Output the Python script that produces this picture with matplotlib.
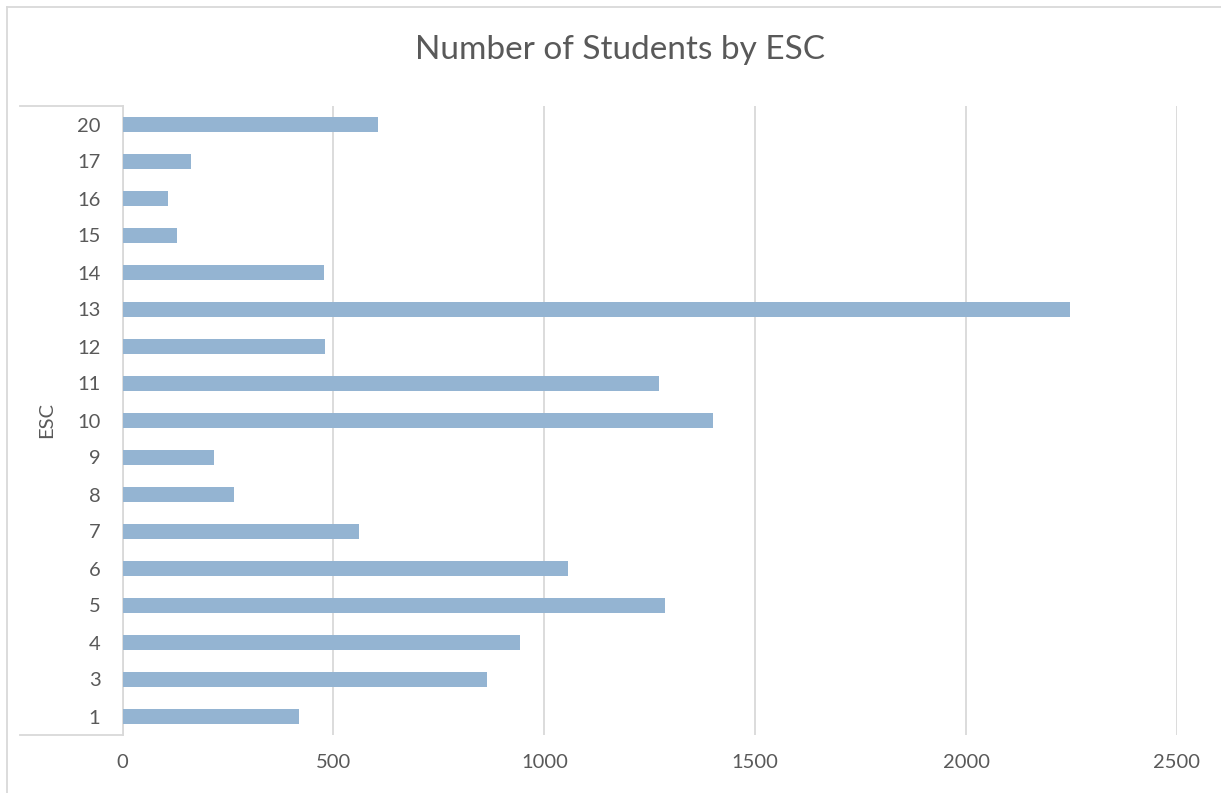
import matplotlib.pyplot as plt
from matplotlib.lines import Line2D
import numpy as np

# ESC regions and student counts
esc = ["1", "3", "4", "5", "6", "7", "8", "9", "10", "11", "12", "13", "14", "15", "16", "17", "20"]
students = [419, 865, 943, 1285, 1057, 561, 264, 217, 1399, 1271, 480, 2246, 478, 129, 108, 162, 606]

bar_color = "#94B4D2"
grid_color = "#D9D9D9"
text_color = "#595959"

plt.rcParams['font.family'] = ['Lato', 'DejaVu Sans']

fig = plt.figure(figsize=(12.21, 7.93), dpi=100)
W, H = 1221, 793
ax = fig.add_axes([122.6 / W, 58 / H, (1177 - 122.6) / W, (735 - 106) / H])

y = np.arange(len(esc))
ax.barh(y, students, height=0.38, color=bar_color, zorder=3)

ax.set_xlim(0, 2500)
ax.set_ylim(-0.5, len(esc) - 0.5)
ax.set_xticks([0, 500, 1000, 1500, 2000, 2500])
ax.set_yticks(y)
ax.set_yticklabels(esc)
ax.xaxis.grid(True, color=grid_color, linewidth=1.3, zorder=0)
ax.tick_params(axis="both", length=0, labelsize=14.5, labelcolor=text_color)
ax.tick_params(axis="y", pad=16)
ax.tick_params(axis="x", pad=14)

for s in ["top", "right", "bottom"]:
    ax.spines[s].set_visible(False)
ax.spines["left"].set_color(grid_color)
ax.spines["left"].set_linewidth(1.3)

ax.set_ylabel("ESC", fontsize=14.5, color=text_color, labelpad=16)

fig.text(620 / W, 1 - 50 / H, "Number of Students by ESC", ha="center", va="center",
         fontsize=24, color=text_color)

# frame around the category labels and the outer chart border
def fline(x0, y0, x1, y1):
    fig.add_artist(Line2D([x0 / W, x1 / W], [1 - y0 / H, 1 - y1 / H],
                          color=grid_color, linewidth=1.3))

fline(20, 106, 122.6, 106)
fline(20, 735, 122.6, 735)
fline(7, 7, 7, 793)
fline(7, 7, 1221, 7)

fig.savefig("out.png", dpi=100, facecolor="white")
